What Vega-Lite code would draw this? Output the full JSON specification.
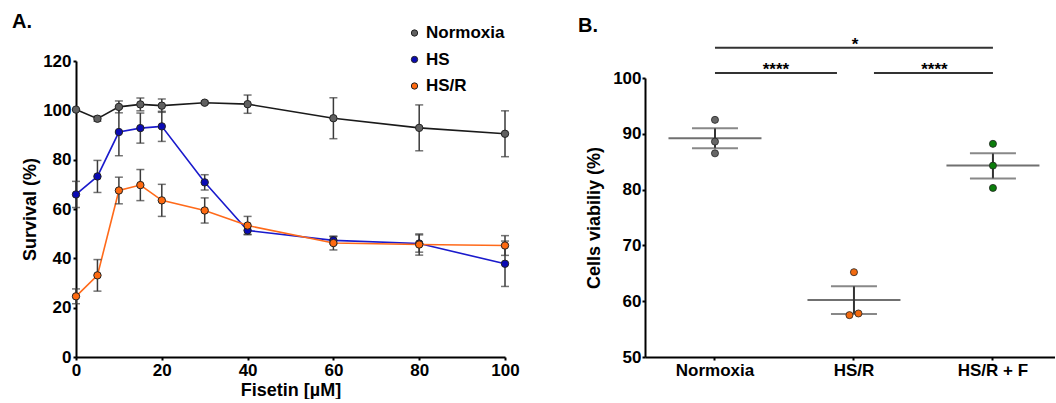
{
  "$schema": "https://vega.github.io/schema/vega-lite/v6.json",
  "padding": {"left": 12, "top": 12, "right": 0, "bottom": 0},
  "background": "white",
  "spacing": 58,
  "resolve": {"scale": {"fill": "independent"}, "legend": {"fill": "independent"}},
  "datasets": {
    "survival": [
      {"series": "Normoxia", "conc": 0, "value": 100.3, "lo": 100.3, "hi": 100.3},
      {"series": "Normoxia", "conc": 5, "value": 96.6, "lo": 95.6, "hi": 97.6},
      {"series": "Normoxia", "conc": 10, "value": 101.4, "lo": 99.0, "hi": 103.8},
      {"series": "Normoxia", "conc": 15, "value": 102.4, "lo": 99.8, "hi": 105.0},
      {"series": "Normoxia", "conc": 20, "value": 101.9, "lo": 99.2, "hi": 104.6},
      {"series": "Normoxia", "conc": 30, "value": 103.1, "lo": 102.5, "hi": 103.7},
      {"series": "Normoxia", "conc": 40, "value": 102.5, "lo": 98.8, "hi": 106.2},
      {"series": "Normoxia", "conc": 60, "value": 96.8, "lo": 88.5, "hi": 105.1},
      {"series": "Normoxia", "conc": 80, "value": 92.9, "lo": 83.6, "hi": 102.2},
      {"series": "Normoxia", "conc": 100, "value": 90.5, "lo": 81.2, "hi": 99.8},
      {"series": "HS", "conc": 0, "value": 65.9, "lo": 60.6, "hi": 71.2},
      {"series": "HS", "conc": 5, "value": 73.2, "lo": 66.7, "hi": 79.7},
      {"series": "HS", "conc": 10, "value": 91.2, "lo": 81.6, "hi": 100.8},
      {"series": "HS", "conc": 15, "value": 92.8, "lo": 86.7, "hi": 98.9},
      {"series": "HS", "conc": 20, "value": 93.5, "lo": 87.4, "hi": 99.6},
      {"series": "HS", "conc": 30, "value": 70.8, "lo": 67.7, "hi": 73.9},
      {"series": "HS", "conc": 40, "value": 51.3, "lo": 49.7, "hi": 52.9},
      {"series": "HS", "conc": 60, "value": 47.3, "lo": 45.8, "hi": 48.8},
      {"series": "HS", "conc": 80, "value": 46.0, "lo": 42.5, "hi": 49.5},
      {"series": "HS", "conc": 100, "value": 37.8, "lo": 28.6, "hi": 47.0},
      {"series": "HS/R", "conc": 0, "value": 24.6, "lo": 21.6, "hi": 27.6},
      {"series": "HS/R", "conc": 5, "value": 33.1, "lo": 26.7, "hi": 39.5},
      {"series": "HS/R", "conc": 10, "value": 67.5, "lo": 62.1, "hi": 72.9},
      {"series": "HS/R", "conc": 15, "value": 69.7, "lo": 63.4, "hi": 76.0},
      {"series": "HS/R", "conc": 20, "value": 63.5, "lo": 57.0, "hi": 70.0},
      {"series": "HS/R", "conc": 30, "value": 59.4, "lo": 54.3, "hi": 64.5},
      {"series": "HS/R", "conc": 40, "value": 53.3, "lo": 49.6, "hi": 57.0},
      {"series": "HS/R", "conc": 60, "value": 46.2, "lo": 43.4, "hi": 49.0},
      {"series": "HS/R", "conc": 80, "value": 45.6, "lo": 41.3, "hi": 49.9},
      {"series": "HS/R", "conc": 100, "value": 45.2, "lo": 41.2, "hi": 49.2}
    ],
    "viability": [
      {"group": "Normoxia", "value": 92.5, "jit": 0},
      {"group": "Normoxia", "value": 88.6, "jit": 0},
      {"group": "Normoxia", "value": 86.5, "jit": 0},
      {"group": "HS/R", "value": 65.2, "jit": 0},
      {"group": "HS/R", "value": 57.5, "jit": -1},
      {"group": "HS/R", "value": 57.8, "jit": 1},
      {"group": "HS/R + F", "value": 88.2, "jit": 0},
      {"group": "HS/R + F", "value": 84.3, "jit": 0},
      {"group": "HS/R + F", "value": 80.3, "jit": 0}
    ],
    "stats": [
      {"group": "Normoxia", "mean": 89.2, "lo": 87.4, "hi": 91.0},
      {"group": "HS/R", "mean": 60.2, "lo": 57.7, "hi": 62.7},
      {"group": "HS/R + F", "mean": 84.3, "lo": 82.0, "hi": 86.5}
    ],
    "sigLeft": [{"g1": "Normoxia", "g2": "HS/R", "y": 100.9, "label": "****"}],
    "sigRight": [{"g1": "HS/R", "g2": "HS/R + F", "y": 100.9, "label": "****"}],
    "sigTop": [{"g1": "Normoxia", "g2": "HS/R + F", "mid": "HS/R", "y": 105.4, "label": "*"}]
  },
  "hconcat": [
    {
      "width": 429,
      "height": 296,
      "title": {"text": "A.", "anchor": "start", "frame": "group", "dx": -64, "offset": -23.5, "baseline": "alphabetic", "fontSize": 20, "font": "Liberation Sans", "fontWeight": "bold", "color": "#000"},
      "data": {"name": "survival"},
      "encoding": {
        "x": {"field": "conc", "type": "quantitative", "scale": {"domain": [0, 100], "nice": false}, "axis": {"values": [0, 20, 40, 60, 80, 100], "title": "Fisetin [µM]", "titlePadding": 3, "labelFlush": false}},
        "y": {"field": "value", "type": "quantitative", "scale": {"domain": [0, 120], "nice": false}, "axis": {"values": [0, 20, 40, 60, 80, 100, 120], "title": "Survival (%)", "titlePadding": 3, "labelPadding": 2}}
      },
      "layer": [
        {
          "mark": {"type": "line", "strokeWidth": 1.6},
          "encoding": {
            "stroke": {"field": "series", "type": "nominal", "scale": {"domain": ["Normoxia", "HS", "HS/R"], "range": ["#1a1a1a", "#1a1acc", "#ff6a1a"]}, "legend": null}
          }
        },
        {
          "mark": {"type": "rule", "color": "#3a3a3a", "strokeWidth": 1.5},
          "encoding": {"y": {"field": "lo", "type": "quantitative"}, "y2": {"field": "hi"}}
        },
        {
          "mark": {"type": "tick", "orient": "horizontal", "color": "#3a3a3a", "size": 8, "thickness": 1.5},
          "encoding": {"y": {"field": "lo", "type": "quantitative"}}
        },
        {
          "mark": {"type": "tick", "orient": "horizontal", "color": "#3a3a3a", "size": 8, "thickness": 1.5},
          "encoding": {"y": {"field": "hi", "type": "quantitative"}}
        },
        {
          "mark": {"type": "point", "shape": "circle", "filled": true, "size": 55, "stroke": "#222", "strokeWidth": 1, "opacity": 1},
          "encoding": {
            "fill": {"field": "series", "type": "nominal", "scale": {"domain": ["Normoxia", "HS", "HS/R"], "range": ["#606060", "#0a0ab4", "#ff6a10"]},
              "legend": {"title": null, "orient": "none", "legendX": 330, "legendY": -36.5, "symbolType": "circle", "symbolSize": 40, "symbolStrokeColor": "#222", "symbolStrokeWidth": 1, "labelFontSize": 17, "labelFont": "Liberation Sans", "labelFontWeight": "bold", "labelColor": "#000", "rowPadding": 8.5, "labelOffset": 3}}
          }
        }
      ]
    },
    {
      "width": 410,
      "height": 296,
      "title": {"text": "B.", "anchor": "start", "frame": "group", "dx": -67, "offset": -16, "baseline": "alphabetic", "fontSize": 20, "font": "Liberation Sans", "fontWeight": "bold", "color": "#000"},
      "layer": [
        {
          "data": {"name": "stats"},
          "mark": {"type": "rule", "color": "#333", "strokeWidth": 2},
          "encoding": {
            "x": {"field": "group", "type": "ordinal", "scale": {"type": "band", "domain": ["Normoxia", "HS/R", "HS/R + F"], "paddingInner": 1, "paddingOuter": 0.475, "align": 0.53}, "axis": {"title": null, "labelAngle": 0, "labelPadding": 2}},
            "y": {"field": "lo", "type": "quantitative", "scale": {"domain": [50, 100], "range": [296, 17], "nice": false, "zero": false}, "axis": {"values": [50, 60, 70, 80, 90, 100], "title": "Cells viabiliy (%)", "titlePadding": 9, "labelPadding": 1}},
            "y2": {"field": "hi"}
          }
        },
        {
          "data": {"name": "stats"},
          "mark": {"type": "tick", "orient": "horizontal", "color": "#333", "size": 93, "thickness": 2},
          "encoding": {
            "x": {"field": "group", "type": "ordinal"},
            "y": {"field": "mean", "type": "quantitative"}
          }
        },
        {
          "data": {"name": "stats"},
          "mark": {"type": "tick", "orient": "horizontal", "color": "#555", "size": 46, "thickness": 2},
          "encoding": {
            "x": {"field": "group", "type": "ordinal"},
            "y": {"field": "lo", "type": "quantitative"}
          }
        },
        {
          "data": {"name": "stats"},
          "mark": {"type": "tick", "orient": "horizontal", "color": "#555", "size": 46, "thickness": 2},
          "encoding": {
            "x": {"field": "group", "type": "ordinal"},
            "y": {"field": "hi", "type": "quantitative"}
          }
        },
        {
          "data": {"name": "viability"},
          "mark": {"type": "point", "shape": "circle", "filled": true, "size": 50, "stroke": "#222", "strokeWidth": 0.8, "opacity": 1},
          "encoding": {
            "x": {"field": "group", "type": "ordinal"},
            "xOffset": {"field": "jit", "type": "quantitative", "scale": {"domain": [-1, 1], "range": [-4.5, 4.5]}},
            "y": {"field": "value", "type": "quantitative"},
            "fill": {"field": "group", "type": "nominal", "scale": {"domain": ["Normoxia", "HS/R", "HS/R + F"], "range": ["#666666", "#f26a0f", "#0b7d0b"]}, "legend": null}
          }
        },
        {
          "data": {"name": "sigLeft"},
          "mark": {"type": "rule", "color": "#333", "strokeWidth": 2, "x2Offset": -17},
          "encoding": {"x": {"field": "g1", "type": "ordinal"}, "x2": {"field": "g2"}, "y": {"field": "y", "type": "quantitative"}}
        },
        {
          "data": {"name": "sigRight"},
          "mark": {"type": "rule", "color": "#333", "strokeWidth": 2, "xOffset": 20},
          "encoding": {"x": {"field": "g1", "type": "ordinal"}, "x2": {"field": "g2"}, "y": {"field": "y", "type": "quantitative"}}
        },
        {
          "data": {"name": "sigTop"},
          "mark": {"type": "rule", "color": "#333", "strokeWidth": 2},
          "encoding": {"x": {"field": "g1", "type": "ordinal"}, "x2": {"field": "g2"}, "y": {"field": "y", "type": "quantitative"}}
        },
        {
          "data": {"name": "sigLeft"},
          "mark": {"type": "text", "font": "Liberation Sans", "fontSize": 17, "fontWeight": "bold", "baseline": "alphabetic", "dy": 2, "dx": 61, "align": "center", "color": "#000"},
          "encoding": {"x": {"field": "g1", "type": "ordinal"}, "y": {"field": "y", "type": "quantitative"}, "text": {"field": "label"}}
        },
        {
          "data": {"name": "sigRight"},
          "mark": {"type": "text", "font": "Liberation Sans", "fontSize": 17, "fontWeight": "bold", "baseline": "alphabetic", "dy": 2, "dx": 80.5, "align": "center", "color": "#000"},
          "encoding": {"x": {"field": "g1", "type": "ordinal"}, "y": {"field": "y", "type": "quantitative"}, "text": {"field": "label"}}
        },
        {
          "data": {"name": "sigTop"},
          "mark": {"type": "text", "font": "Liberation Sans", "fontSize": 17, "fontWeight": "bold", "baseline": "alphabetic", "dy": 2, "dx": 1, "align": "center", "color": "#000"},
          "encoding": {"x": {"field": "mid", "type": "ordinal"}, "y": {"field": "y", "type": "quantitative"}, "text": {"field": "label"}}
        }
      ]
    }
  ],
  "config": {
    "view": {"stroke": null},
    "font": "Liberation Sans",
    "axis": {
      "grid": false,
      "domainColor": "#000",
      "domainWidth": 2,
      "tickColor": "#000",
      "tickWidth": 2,
      "tickSize": 3,
      "labelFont": "Liberation Sans",
      "labelFontSize": 17,
      "labelFontWeight": "bold",
      "labelColor": "#000",
      "titleFont": "Liberation Sans",
      "titleFontSize": 18,
      "titleFontWeight": "bold",
      "titleColor": "#000"
    }
  }
}
